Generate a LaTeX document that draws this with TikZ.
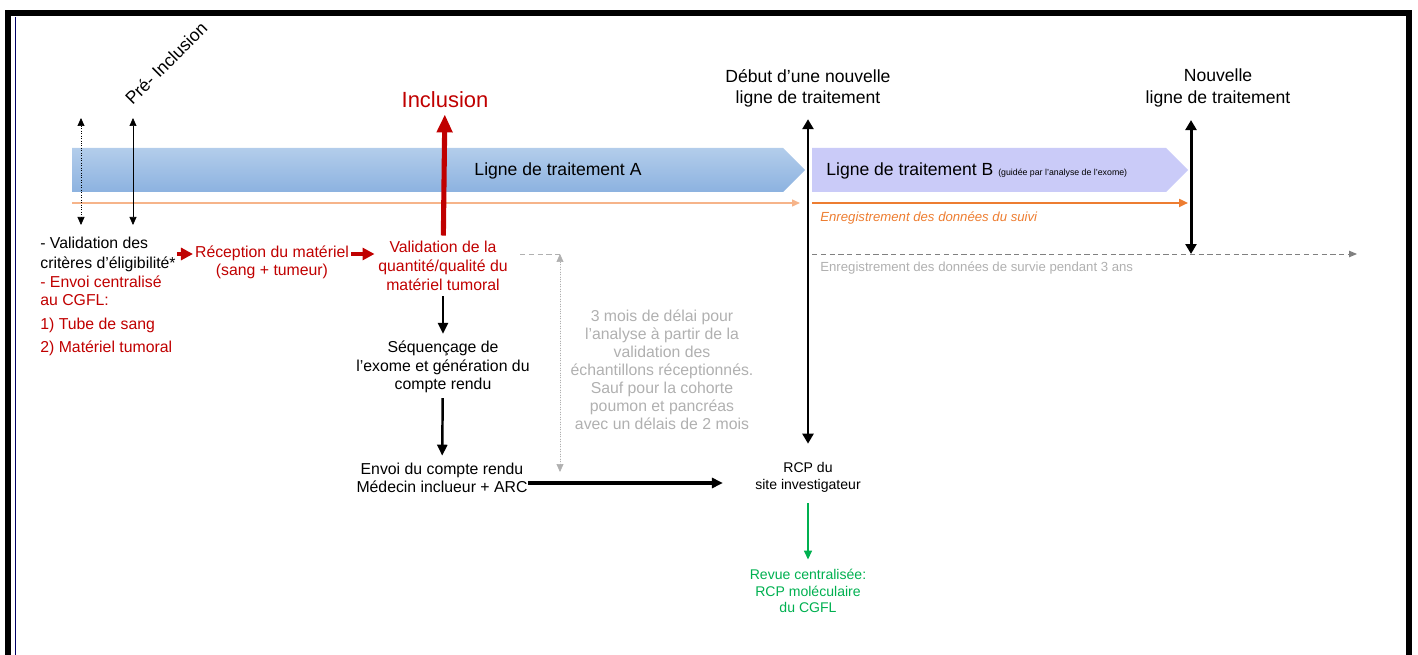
\documentclass[tikz,border=0pt]{standalone}
\usepackage{fontspec}
\setmainfont{Liberation Sans}
\usetikzlibrary{arrows.meta,positioning}

\definecolor{rougeC}{HTML}{C00000}
\definecolor{vertC}{HTML}{00B050}
\definecolor{grisC}{HTML}{B0B0B0}
\definecolor{orangeC}{HTML}{ED7D31}
\definecolor{orangeL}{HTML}{F6B48A}
\definecolor{bleuH}{HTML}{B3CDEB}
\definecolor{bleuB}{HTML}{8CB2E0}
\definecolor{lavande}{HTML}{CACBF8}

\begin{document}
\begin{tikzpicture}[
  x=0.02cm, y=-0.02cm,
  txt/.style={align=center, inner sep=0pt, font=\fontsize{9}{10.4}\selectfont},
  redtxt/.style={txt, text=rougeC},
  graytxt/.style={txt, text=grisC},
  title/.style={align=center, inner sep=0pt, font=\fontsize{10}{12}\selectfont},
  arrow/.style={-{Triangle[length=2.2mm, width=2mm]}, line width=1.4pt},
  redarrow/.style={-{Triangle[length=2.4mm, width=2.4mm]}, line width=1.8pt, draw=rougeC, fill=rougeC},
  bigdouble/.style={{Triangle[length=2mm, width=2.2mm]}-{Triangle[length=2mm, width=2.2mm]}, line width=1.7pt},
  thin/.style={{Triangle[length=1.6mm, width=1.4mm]}-{Triangle[length=1.6mm, width=1.4mm]}, line width=0.4pt}
]
\useasboundingbox (0,0) rectangle (1418,655);

% cadre
\draw[line width=3.4pt] (8,680) -- (8,13) -- (1409,13) -- (1409,680);
\draw[blue!40!black, line width=0.5pt] (15,17) -- (15,655);

% bandes des lignes de traitement
\shade[top color=bleuH, bottom color=bleuB] (72,148) -- (783,148) -- (805,170) -- (783,192) -- (72,192) -- cycle;
\fill[lavande] (812,148) -- (1166,148) -- (1188,170) -- (1166,192) -- (812,192) -- cycle;
\node[title] (ligneA) at (558,171) {Ligne de traitement A};
\node[title, anchor=west] (ligneB) at (826,171) {Ligne de traitement B {\fontsize{5}{6}\selectfont (guidée par l'analyse de l'exome)}};

% titres du haut
\node[title, rotate=45] (preinc) at (166,63) {Pré- Inclusion};
\node[title, text=rougeC, font=\fontsize{12.5}{14}\selectfont] (inclusion) at (445,100) {Inclusion};
\node[title] (debut) at (808,88) {Début d'une nouvelle\\ligne de traitement};
\node[title] (nouvelle) at (1218,88) {Nouvelle\\ligne de traitement};

% suivi
\coordinate (oA0) at (72,203);
\coordinate (oA1) at (800,203);
\coordinate (oB0) at (812,203);
\coordinate (oB1) at (1188,203);
\draw[orangeL, line width=0.8pt, -{Triangle[length=1.6mm, width=1.4mm]}] (oA0) -- (oA1);
\draw[orangeC, line width=1.3pt, -{Triangle[length=1.8mm, width=1.6mm]}] (oB0) -- (oB1);
\node[anchor=west, inner sep=0pt, text=orangeC, font=\fontsize{7.5}{9}\selectfont\itshape] (suivi) at (820,218) {Enregistrement des données du suivi};

\coordinate (s0) at (812,254);
\coordinate (s1) at (1357,254);
\coordinate (fin) at (1191,254);
\draw[gray, densely dashed, line width=0.5pt, -{Triangle[length=1.6mm, width=1.3mm]}] (s0) -- (s1);
\node[anchor=west, inner sep=0pt, text=grisC, font=\fontsize{7.5}{9}\selectfont] (survie) at (820,268) {Enregistrement des données de survie pendant 3 ans};

% pre-inclusion
\coordinate (p1t) at (81,118);
\coordinate (p1b) at (81,225);
\coordinate (p2t) at (133,118);
\coordinate (p2b) at (133,225);
\draw[thin, densely dotted] (p1t) -- (p1b);
\draw[thin] (p2t) -- (p2b);

% circuit des echantillons
\node[txt, align=left, anchor=west, font=\fontsize{9}{11.3}\selectfont] (elig) at (40,254) {- Validation des\\critères d'éligibilité*};
\node[redtxt, align=left, anchor=north west, font=\fontsize{9}{9.8}\selectfont] (cgfl) at (40,276) {- Envoi centralisé\\au CGFL:\\[3.8pt]1) Tube de sang\\[3.4pt]2) Matériel tumoral};
\node[redtxt] (recep) at (272,262) {Réception du matériel\\(sang + tumeur)};
\node[redtxt, font=\fontsize{9}{11}\selectfont] (valid) at (443,266) {Validation de la\\quantité/qualité du\\matériel tumoral};
\node[txt] (seq) at (443,367) {Séquençage de\\l'exome et génération du\\compte rendu};
\node[txt] (envoi) at (442,478) {Envoi du compte rendu\\Médecin inclueur + ARC};
\node[graytxt, font=\fontsize{9}{10.2}\selectfont] (delai) at (662,370) {3 mois de délai pour\\l'analyse à partir de la\\validation des\\échantillons réceptionnés.\\Sauf pour la cohorte\\poumon et pancréas\\avec un délais de 2 mois};
\node[txt, font=\fontsize{8}{9.6}\selectfont] (rcp) at (808,477) {RCP du\\site investigateur};
\node[txt, text=vertC, font=\fontsize{8}{9.6}\selectfont] (revue) at (808,591) {Revue centralisée:\\RCP moléculaire\\du CGFL};

\draw[redarrow, shorten <=0.5pt, shorten >=1pt] (elig.east) -- (elig.east -| recep.west);
\draw[redarrow, shorten <=1pt, shorten >=2pt] (recep.east |- elig.east) -- (valid.west |- elig.east);
\draw[rougeC, line width=2.9pt, -{Triangle[length=3.6mm, width=3mm]}, shorten <=1mm, shorten >=1.2mm] (valid) -- (inclusion);
\draw[arrow, shorten <=1mm, shorten >=1.4mm] (valid.south -| seq) -- (seq);
\draw[arrow, shorten <=1mm, shorten >=1.4mm] (seq) -- (envoi);
\draw[arrow, line width=1.8pt, shorten >=6.4mm] (envoi.east) ++(0,5) -- (rcp.west |- 0,483);

% delai d'analyse
\coordinate (g0) at (520,254);
\coordinate (g1) at (560,254);
\coordinate (g2) at (560,472);
\draw[grisC, densely dashed, line width=0.5pt] (g0) -- (g1);
\draw[thin, draw=grisC, fill=grisC, densely dotted] (g1) -- (g2);

% nouvelles lignes de traitement
\draw[bigdouble, shorten <=2.4mm, shorten >=3.6mm] (debut) -- (rcp);
\draw[bigdouble, shorten <=2.6mm] (fin |- nouvelle.south) -- (fin);
\draw[vertC, line width=0.9pt, -{Triangle[length=1.8mm, width=1.6mm]}, shorten <=2.2mm, shorten >=1.8mm] (rcp) -- (revue);
\end{tikzpicture}
\end{document}
